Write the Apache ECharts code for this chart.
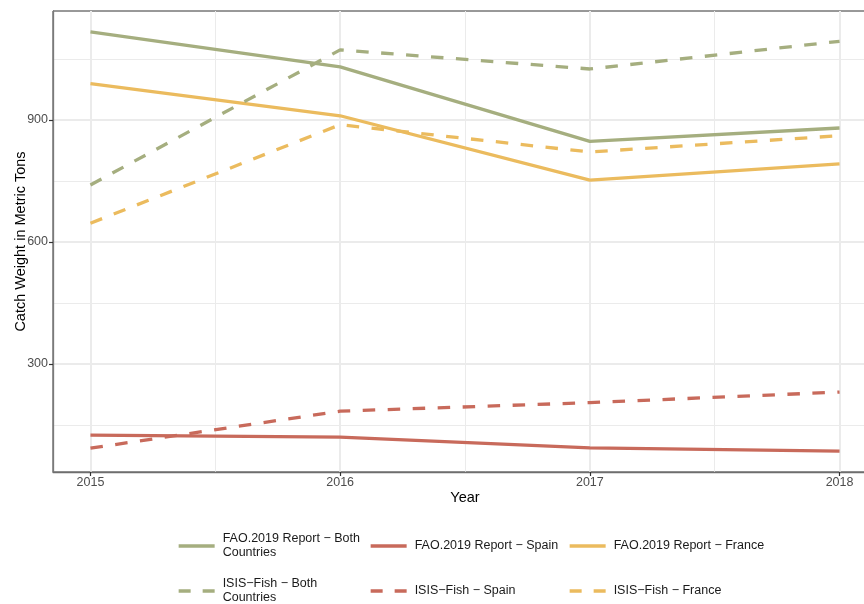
<!DOCTYPE html>
<html>
<head>
<meta charset="utf-8">
<script src="https://cdn.jsdelivr.net/npm/echarts@6/dist/echarts.min.js"></script>
<style>
  html, body { margin: 0; padding: 0; background: #ffffff; }
  #chart { width: 864px; height: 604px; }
</style>
</head>
<body>
<div id="chart"></div>
<script>
// Catch weight by year, FAO 2019 report vs ISIS-Fish model
const years = [2015, 2016, 2017, 2018];
const faoBoth = [1116, 1030, 847, 880];
const faoSpain = [125, 120, 94, 86];
const faoFrance = [989, 910, 752, 792];
const isisBoth = [740, 1072, 1025, 1093];
const isisSpain = [93, 184, 205, 231];
const isisFrance = [646, 888, 821, 861];

const yMajor = [300, 600, 900];
const yMinor = [150, 450, 750, 1050];
const xMajor = [2015, 2016, 2017, 2018];
const xMinor = [2015.5, 2016.5, 2017.5];

const seriesNames = [
  'FAO.2019 Report − Both Countries',
  'FAO.2019 Report − Spain',
  'FAO.2019 Report − France',
  'ISIS−Fish − Both Countries',
  'ISIS−Fish − Spain',
  'ISIS−Fish − France'
];
const seriesData = [faoBoth, faoSpain, faoFrance, isisBoth, isisSpain, isisFrance];
const GREEN = '#a5ae7f', RED = '#c86a5b', YELLOW = '#ebbb5e';
const seriesColors = [GREEN, RED, YELLOW, GREEN, RED, YELLOW];
const DASH = [12.5, 12.5];
const LW = 3.3;

// 5% padding on both ends of the data range
const allVals = seriesData.flat();
const vLo = Math.min(...allVals), vHi = Math.max(...allVals);
const vPad = 0.05 * (vHi - vLo);
const xPad = 0.05 * (years[years.length - 1] - years[0]);

const FONT = '"Liberation Sans", Arial, Helvetica, sans-serif';

const series = seriesNames.map((name, i) => ({
  name: name,
  type: 'line',
  data: years.map((y, k) => [y, seriesData[i][k]]),
  showSymbol: false,
  symbol: 'none',
  silent: true,
  color: seriesColors[i],
  lineStyle: {
    width: LW,
    color: seriesColors[i],
    type: i >= 3 ? DASH : 'solid',
    cap: 'butt'
  },
  z: 3
}));

// one legend block per entry so the columns line up like a 3x2 table
const legendCols = [177, 369, 568];
const rowCenters = [546, 591];
const legends = seriesNames.map((name, i) => {
  const col = i % 3, row = Math.floor(i / 3);
  const twoLine = col === 0;
  return {
    data: [name],
    left: legendCols[col],
    top: rowCenters[row] - (twoLine ? 14 : 7),
    orient: 'vertical',
    padding: 0,
    itemWidth: 36,
    itemHeight: 14,
    itemGap: 10,
    selectedMode: false,
    itemStyle: { opacity: 0, borderWidth: 0 },
    lineStyle: { width: LW, type: row === 1 ? [12, 12] : 'solid', cap: 'butt' },
    formatter: n => n.replace(' Countries', '\nCountries'),
    textStyle: { fontFamily: FONT, fontSize: 12.5, color: '#1a1a1a', lineHeight: 14, padding: [0, 0, 0, 3] }
  };
});

const chart = echarts.init(document.getElementById('chart'), null, { renderer: 'canvas' });
chart.setOption({
  backgroundColor: '#ffffff',
  animation: false,
  grid: {
    left: 53, top: 11, width: 824, height: 461,
    containLabel: false,
    outerBoundsMode: 'none',
    show: true, borderColor: '#333333', borderWidth: 1, backgroundColor: 'transparent'
  },
  legend: legends,
  xAxis: [
    {
      type: 'value',
      min: years[0] - xPad,
      max: years[years.length - 1] + xPad,
      name: 'Year',
      nameLocation: 'middle',
      nameGap: 18,
      nameMoveOverlap: false,
      nameTextStyle: { fontFamily: FONT, fontSize: 14.5, color: '#000000' },
      axisLine: { show: true, onZero: false, lineStyle: { color: '#6e6e6e', width: 1.3 } },
      axisTick: { show: true, length: 4, customValues: xMajor, lineStyle: { color: '#333333', width: 1.2 } },
      axisLabel: {
        customValues: xMajor, margin: 4,
        fontFamily: FONT, fontSize: 12.5, color: '#4d4d4d',
        formatter: v => String(Math.round(v))
      },
      splitLine: { show: true, lineStyle: { color: '#ebebeb', width: 2 } }
    },
    {
      type: 'value',
      position: 'top',
      min: years[0] - xPad,
      max: years[years.length - 1] + xPad,
      axisLine: { show: false },
      axisTick: { show: false, customValues: xMinor },
      axisLabel: { show: false, customValues: xMinor },
      splitLine: { show: true, lineStyle: { color: '#ebebeb', width: 1 } }
    }
  ],
  yAxis: [
    {
      type: 'value',
      min: vLo - vPad,
      max: vHi + vPad,
      name: 'Catch Weight in Metric Tons',
      nameLocation: 'middle',
      nameGap: 25,
      nameMoveOverlap: false,
      nameRotate: 90,
      nameTextStyle: { fontFamily: FONT, fontSize: 14.5, color: '#000000' },
      axisLine: { show: true, onZero: false, lineStyle: { color: '#7a7a7a', width: 1.3 } },
      axisTick: { show: true, length: 4, customValues: yMajor, lineStyle: { color: '#333333', width: 1.2 } },
      axisLabel: {
        customValues: yMajor, margin: 5,
        fontFamily: FONT, fontSize: 12.5, color: '#4d4d4d'
      },
      splitLine: { show: true, lineStyle: { color: '#ebebeb', width: 2 } }
    },
    {
      type: 'value',
      position: 'right',
      min: vLo - vPad,
      max: vHi + vPad,
      axisLine: { show: false },
      axisTick: { show: false, customValues: yMinor },
      axisLabel: { show: false, customValues: yMinor },
      splitLine: { show: true, lineStyle: { color: '#ebebeb', width: 1 } }
    }
  ],
  series: series
});
</script>
</body>
</html>
